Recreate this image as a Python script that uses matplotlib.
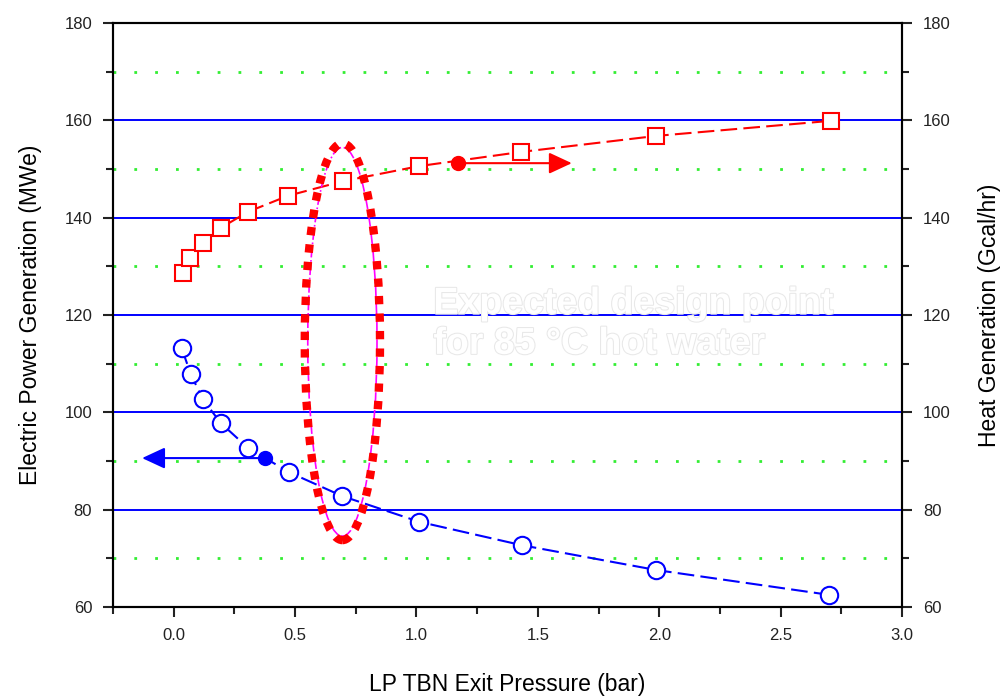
import matplotlib
matplotlib.use("Agg")
import matplotlib.pyplot as plt
import matplotlib.patheffects as pe
from matplotlib.patches import Ellipse

plt.rcParams['font.family'] = ['Liberation Sans', 'DejaVu Sans']

# LP turbine exit pressure (bar)
p_power = [0.033, 0.07, 0.12, 0.194, 0.306, 0.475, 0.694, 1.012, 1.434, 1.988, 2.70]
power = [113.2, 107.9, 102.7, 97.8, 92.7, 87.7, 82.8, 77.5, 72.7, 67.6, 62.5]

p_heat = [0.037, 0.066, 0.12, 0.194, 0.306, 0.471, 0.698, 1.012, 1.43, 1.988, 2.707]
heat = [128.6, 131.7, 134.8, 137.9, 141.2, 144.5, 147.5, 150.6, 153.5, 156.8, 159.9]

# axis pointer markers (point, arrow end)
power_pt = (0.376, 90.6)
power_arrow_x = -0.13
heat_pt = (1.17, 151.2)
heat_arrow_x = 1.64

# design point ellipse
design_x, design_y = 0.695, 114.5
design_w, design_h = 0.31, 81.5

fig = plt.figure(figsize=(10.05, 6.97), dpi=100)
ax = fig.add_axes([0.1124, 0.1291, 0.7851, 0.8379])
ax.set_xlim(-0.25, 3.0)
ax.set_ylim(60, 180)

# grid lines
for y in [80, 100, 120, 140, 160]:
    ax.axhline(y, color='#0000ff', lw=1.4, zorder=1)
for y in [70, 90, 110, 130, 150, 170]:
    ax.axhline(y, color='#33ee33', lw=2, ls=(0, (1, 6.5)), zorder=1)

ax.plot(p_power, power, color='#0000ff', lw=1.5, ls=(0, (8, 3)),
        marker='o', ms=12.5, mfc='white', mec='#0000ff', mew=1.5, zorder=3)
ax.plot(p_heat, heat, color='#ff0000', lw=1.5, ls=(0, (8, 3)),
        marker='s', ms=12, mfc='white', mec='#ff0000', mew=1.5, zorder=3)

# arrows pointing to each axis
ax.annotate('', xy=(power_arrow_x, power_pt[1]), xytext=power_pt,
            arrowprops=dict(arrowstyle='-|>,head_length=1.4,head_width=0.65',
                            color='#0000ff', lw=1.5, shrinkA=0, shrinkB=0), zorder=4)
ax.plot(*power_pt, 'o', color='#0000ff', ms=10, zorder=5)
ax.annotate('', xy=(heat_arrow_x, heat_pt[1]), xytext=heat_pt,
            arrowprops=dict(arrowstyle='-|>,head_length=1.4,head_width=0.65',
                            color='#ff0000', lw=1.5, shrinkA=0, shrinkB=0), zorder=4)
ax.plot(*heat_pt, 'o', color='#ff0000', ms=10, zorder=5)

ax.add_patch(Ellipse((design_x, design_y), design_w * 0.92, design_h * 0.98,
                     fill=False, ec='#ff00ff', lw=1.2, ls='-.', zorder=4))
ax.add_patch(Ellipse((design_x, design_y), design_w, design_h,
                     fill=False, ec='#ff0000', lw=6, ls=(0, (1, 1.1)), zorder=4))

ax.text(1.07, 118.2, 'Expected design point\nfor 85 °C hot water',
        color='white', fontsize=27, fontweight='bold', ha='left', va='center',
        linespacing=1.15, zorder=6,
        path_effects=[pe.withStroke(linewidth=1.5, foreground='#e8e8e8')])

ax.set_xticks([0.0, 0.5, 1.0, 1.5, 2.0, 2.5, 3.0])
ax.set_xticklabels(['0.0', '0.5', '1.0', '1.5', '2.0', '2.5', '3.0'])
ax.set_xticks([-0.25, 0.25, 0.75, 1.25, 1.75, 2.25, 2.75], minor=True)
ax.set_yticks(range(60, 181, 20))
ax.set_yticks(range(70, 180, 20), minor=True)

ax2 = ax.twinx()
ax2.set_ylim(60, 180)
ax2.set_yticks(range(60, 181, 20))
ax2.set_yticks(range(70, 180, 20), minor=True)

for a in (ax, ax2):
    for s in a.spines.values():
        s.set_linewidth(1.5)
    a.tick_params(which='both', direction='out', width=1.5, labelsize=12,
                  colors='#222222')
    a.tick_params(which='major', length=7, pad=8)
    a.tick_params(which='minor', length=5)

ax.set_xlabel('LP TBN Exit Pressure (bar)', fontsize=16.5, labelpad=22)
ax.set_ylabel('Electric Power Generation (MWe)', fontsize=16.5, labelpad=16)
ax2.set_ylabel('Heat Generation (Gcal/hr)', fontsize=16.5, labelpad=20)

fig.savefig('out.png', dpi=100)
